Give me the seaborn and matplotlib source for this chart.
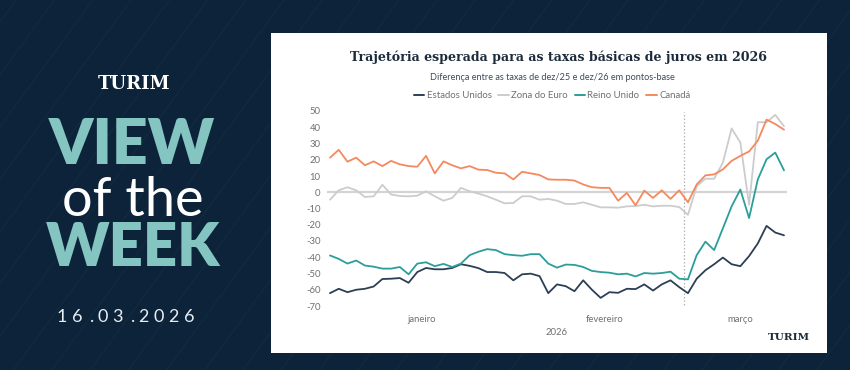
import numpy as np
import pandas as pd
import matplotlib.pyplot as plt
import seaborn as sns
from matplotlib.patches import Rectangle
from matplotlib.lines import Line2D

# === dados (diferença dez/25 -> dez/26, pontos-base) ===
datas = pd.bdate_range("2026-01-01", "2026-03-16")

estados_unidos = [
    -62.1, -59.4, -61.5, -60.0, -59.4, -58.0, -53.4, -53.2, -52.8, -55.7, -49.1, -46.6, -47.4, -47.4, -46.6, -44.3, -45.3, -46.7,
    -49.1, -49.1, -49.7, -54.2, -50.5, -50.1, -51.6, -62.1, -56.7, -57.8, -60.9, -54.2, -60.0, -65.0, -61.5, -61.9, -59.4, -59.6,
    -56.7, -60.5, -56.7, -54.2, -58.4, -62.1, -53.2, -48.0, -44.3, -40.2, -44.3, -45.5, -39.3, -31.5, -20.7, -24.8, -26.5,
]
zona_do_euro = [
    -4.6, 1.2, 3.1, 1.2, -2.9, -2.5, 4.6, -1.4, -2.3, -2.5, -2.1, 0.6, -2.5, -5.2, -3.5, 2.7, 0.6, -0.8,
    -2.5, -4.6, -6.8, -6.6, -2.5, -2.5, -4.6, -4.1, -5.2, -7.2, -7.2, -6.2, -7.7, -9.3, -9.3, -9.5, -8.7, -8.5,
    -7.7, -8.7, -8.3, -8.3, -9.1, -13.9, 3.7, 8.3, 8.3, 18.2, 39.3, 30.6, -7.7, 43.1, 43.1, 47.6, 40.6,
]
reino_unido = [
    -38.9, -41.0, -43.9, -42.0, -45.1, -45.8, -47.0, -47.0, -46.0, -50.5, -43.9, -43.1, -45.5, -44.1, -46.0, -43.9, -38.7, -36.6,
    -35.0, -35.6, -38.1, -38.7, -39.1, -38.1, -38.1, -43.9, -46.4, -44.5, -44.7, -46.0, -48.4, -49.1, -49.5, -50.5, -50.1, -51.8,
    -49.7, -50.1, -49.7, -48.9, -53.2, -53.6, -38.7, -30.4, -35.6, -22.2, -8.7, 1.7, -15.9, 7.9, 20.3, 24.4, 13.5,
]
canada = [
    21.3, 26.1, 18.8, 21.3, 16.6, 19.0, 16.1, 19.3, 17.2, 16.1, 15.7, 22.4, 11.6, 19.0, 16.6, 14.7, 16.1, 13.9,
    13.7, 12.0, 11.6, 7.9, 12.6, 11.6, 10.6, 7.9, 7.7, 7.7, 7.2, 4.8, 3.1, 2.7, 2.7, -5.2, -0.4, -8.0,
    1.0, -3.5, 1.2, -4.1, 1.2, -6.2, 4.8, 10.4, 11.0, 14.1, 19.3, 22.4, 25.1, 31.7, 44.7, 42.0, 38.5,
]

paises = ["Estados Unidos", "Zona do Euro", "Reino Unido", "Canadá"]
cores = {"Estados Unidos": "#2d3f55", "Zona do Euro": "#cccccc",
         "Reino Unido": "#2b9e9a", "Canadá": "#f5895e"}
meses = ["janeiro", "fevereiro", "março"]
y_ticks = list(range(-70, 51, 10))
marco_evento = 40.5  # linha pontilhada (fim de fevereiro)

# === montar tabela longa ===
pos = np.arange(len(datas))
df = pd.DataFrame({
    "pos": np.tile(pos, 4),
    "pais": np.repeat(paises, len(datas)),
    "valor": estados_unidos + zona_do_euro + reino_unido + canada,
})
centro_mes = pd.Series(pos).groupby(datas.month).mean().values

# === figura ===
sns.set_theme(style="white")
plt.rcParams["font.family"] = ["Lato", "DejaVu Sans"]

navy = "#0c2339"
fig = plt.figure(figsize=(8.5, 3.7), dpi=100, facecolor=navy)

# faixas diagonais discretas no fundo
for k in range(-12, 30):
    x0 = k * 0.045
    fig.add_artist(Line2D([x0, x0 + 0.35], [-0.05, 1.05], transform=fig.transFigure,
                          color="#ffffff", alpha=0.03, lw=0.8, zorder=0))

# cartão branco
fig.add_artist(Rectangle((271 / 850, 17 / 370), 556 / 850, 320 / 370,
                         transform=fig.transFigure, facecolor="white",
                         edgecolor="none", zorder=1))

# painel esquerdo
teal_claro = "#84c5c2"
fig.text(134 / 850, 1 - 84 / 370, "TURIM", ha="center", va="center", color="white",
         fontsize=13, fontweight="bold", family=["DejaVu Serif"])
fig.text(132 / 850, 1 - 145 / 370, "VIEW", ha="center", va="center", color=teal_claro,
         fontsize=45, fontweight="heavy")
fig.text(133 / 850, 1 - 200 / 370, "of the", ha="center", va="center", color="white",
         fontsize=39, fontweight="normal")
fig.text(133 / 850, 1 - 248 / 370, "WEEK", ha="center", va="center", color=teal_claro,
         fontsize=43, fontweight="heavy")
data_txt = "16.03.2026"
xc = 62
for ch in data_txt:
    fig.text(xc / 850, 1 - 317 / 370, ch, ha="center", va="center", color="#e8eef2",
             fontsize=13)
    xc += 10 if ch == "." else 15.3

# === eixo do gráfico ===
x_min, x_max = -0.3, len(datas) - 1 + 0.3
px = 454 / (len(datas) - 1)
left_px = 330 - 0.3 * px
right_px = 784 + 0.3 * px
y_min, y_max = -72, 52
ppu = 195 / 120
top_px = 111 - (y_max - 50) * ppu
bot_px = 306 + (-70 - y_min) * ppu
ax = fig.add_axes([left_px / 850, 1 - bot_px / 370,
                   (right_px - left_px) / 850, (bot_px - top_px) / 370])
ax.set_facecolor("white")
ax.set_zorder(2)

ax.axhline(0, color="#d4d4d4", lw=1.6, zorder=1)
ax.axvline(marco_evento, ymin=0.02, ymax=0.98, color="#b5b5b5", lw=0.9,
           linestyle=(0, (1.2, 1.6)), zorder=1)

sns.lineplot(data=df, x="pos", y="valor", hue="pais", hue_order=paises,
             palette=cores, linewidth=1.3, legend=False, ax=ax, zorder=3)

ax.set_xlim(x_min, x_max)
ax.set_ylim(y_min, y_max)
ax.set_yticks(y_ticks)
ax.set_yticklabels([str(v) for v in y_ticks])
ax.set_xticks(centro_mes)
ax.set_xticklabels(meses)
ax.tick_params(axis="both", length=0, labelsize=6.8, colors="#707070")
ax.tick_params(axis="y", pad=5)
ax.tick_params(axis="x", pad=4)
ax.set_xlabel("2026", fontsize=6.8, color="#707070", labelpad=3)
ax.set_ylabel("")
for s in ax.spines.values():
    s.set_visible(False)

# títulos e legenda
fig.text(558 / 850, 1 - 57 / 370, "Trajetória esperada para as taxas básicas de juros em 2026",
         ha="center", va="center", color="#1c2b3b", fontsize=9.1, fontweight="bold",
         family=["DejaVu Serif"], zorder=3)
fig.text(552 / 850, 1 - 77 / 370, "Diferença entre as taxas de dez/25 e dez/26 em pontos-base",
         ha="center", va="center", color="#3e4a57", fontsize=6.6, zorder=3)
handles = [Line2D([0], [0], color=cores[p], lw=1.4) for p in paises]
leg = fig.legend(handles, paises, loc="center", bbox_to_anchor=(552 / 850, 1 - 96 / 370),
                 ncol=4, frameon=False, fontsize=6.9, handlelength=1.1,
                 handletextpad=0.25, columnspacing=0.7)
for t in leg.get_texts():
    t.set_color("#707070")
leg.set_zorder(3)

# marca no canto
fig.text(810 / 850, 1 - 338 / 370, "TURIM", ha="right", va="center", color="#1c2b3b",
         fontsize=7.5, fontweight="bold", family=["DejaVu Serif"], zorder=3)

fig.savefig("out.png", dpi=100, facecolor=navy)
